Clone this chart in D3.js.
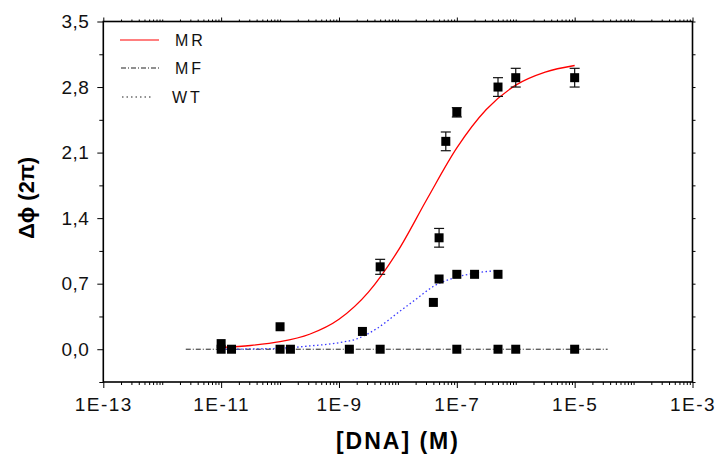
<!DOCTYPE html>
<html>
<head>
  <meta charset="utf-8">
  <script src="https://cdn.jsdelivr.net/npm/d3@7/dist/d3.min.js"></script>
  <style>
    body { margin: 0; background: #fff; }
    svg { font-family: "Liberation Sans", Arial, sans-serif; }
  </style>
</head>
<body>
  <svg id="container" width="721" height="455"></svg>
<script>
    // measured points: concentration (M), delta phi (2pi), error
    const mrConc = [5e-9, 5e-8, 6.5e-8, 1e-7, 5e-7, 1e-6, 1e-5];
    const mrValue = [0.88, 1.19, 2.22, 2.53, 2.80, 2.90, 2.90];
    const mrErr = [0.08, 0.10, 0.10, 0.05, 0.10, 0.10, 0.10];

    const wtConc = [1e-11, 1e-10, 2.5e-9, 4e-8, 5e-8, 1e-7, 2e-7, 5e-7];
    const wtValue = [0.06, 0.24, 0.19, 0.50, 0.75, 0.80, 0.80, 0.80];

    const mfConc = [1e-11, 1.5e-11, 1e-10, 1.5e-10, 1.5e-9, 5e-9, 1e-7, 5e-7, 1e-6, 1e-5];
    const mfValue = [0, 0, 0, 0, 0, 0, 0, 0, 0, 0];

    // fitted curves (log10 of concentration, value)
    const mrFitLog = [-11, -10.5, -10, -9.5, -9, -8.5, -8, -7.5, -7, -6.5, -6, -5.5, -5];
    const mrFitValue = [0.02, 0.04, 0.08, 0.16, 0.32, 0.61, 1.05, 1.61, 2.15, 2.56, 2.82, 2.96, 3.03];

    const wtFitLog = [-11, -10.5, -10, -9.5, -9, -8.7, -8.36, -8, -7.68, -7.4, -7.06, -6.72, -6.31];
    const wtFitValue = [0, 0.003, 0.01, 0.035, 0.07, 0.11, 0.22, 0.39, 0.54, 0.67, 0.76, 0.81, 0.84];

    const mfFitLog = [-11.6, -4.44];
    const mfFitValue = [0, 0];

    const xTickValues = [1e-13, 1e-11, 1e-9, 1e-7, 1e-5, 1e-3];
    const yTickValues = [0, 0.7, 1.4, 2.1, 2.8, 3.5];
    const legendNames = ['MR', 'MF', 'WT'];

    const plotLeft = 103.3, plotRight = 692.5, plotTop = 21.5, plotBottom = 382;

    const svg = d3.select('#container');

    const x = d3.scaleLog().domain([1e-13, 1e-3]).range([plotLeft, plotRight]);
    const y = d3.scaleLinear().domain([-0.35, 3.5]).range([plotBottom, plotTop]);

    const fmtY = (d) => d3.format('.1f')(d).replace('.', ',');
    const fmtX = (d) => '1E' + Math.round(Math.log10(d));

    // minor ticks
    const minorX = x.ticks(100).filter((d) => !xTickValues.some((t) => Math.abs(t - d) / t < 1e-6));
    const minorY = d3.range(-0.35, 3.5, 0.7);

    // frame
    svg.append('rect')
      .attr('x', plotLeft).attr('y', plotTop)
      .attr('width', plotRight - plotLeft).attr('height', plotBottom - plotTop)
      .attr('fill', 'none').attr('stroke', '#000').attr('stroke-width', 1.6);

    // bottom axis
    const xAxis = svg.append('g')
      .attr('transform', `translate(0, ${plotBottom})`)
      .call(d3.axisBottom(x).tickValues(xTickValues).tickFormat(fmtX).tickSize(6).tickPadding(10));
    xAxis.select('.domain').remove();
    xAxis.selectAll('text')
      .attr('font-size', 19).attr('fill', '#111')
      .attr('letter-spacing', 1.5)
      .attr('font-family', '"Liberation Sans", Arial, sans-serif');
    svg.append('g')
      .attr('transform', `translate(0, ${plotBottom})`)
      .call(d3.axisBottom(x).tickValues(minorX).tickFormat('').tickSize(3))
      .select('.domain').remove();

    // top mirrored ticks
    svg.append('g')
      .attr('transform', `translate(0, ${plotTop})`)
      .call(d3.axisTop(x).tickValues(xTickValues).tickFormat('').tickSize(4))
      .select('.domain').remove();
    svg.append('g')
      .attr('transform', `translate(0, ${plotTop})`)
      .call(d3.axisTop(x).tickValues(minorX).tickFormat('').tickSize(2))
      .select('.domain').remove();

    // left axis
    const yAxis = svg.append('g')
      .attr('transform', `translate(${plotLeft}, 0)`)
      .call(d3.axisLeft(y).tickValues(yTickValues).tickFormat(fmtY).tickSize(6).tickPadding(8));
    yAxis.select('.domain').remove();
    yAxis.selectAll('text')
      .attr('font-size', 19).attr('fill', '#111')
      .attr('letter-spacing', 0.5)
      .attr('font-family', '"Liberation Sans", Arial, sans-serif');
    svg.append('g')
      .attr('transform', `translate(${plotLeft}, 0)`)
      .call(d3.axisLeft(y).tickValues(minorY).tickFormat('').tickSize(4))
      .select('.domain').remove();

    // right mirrored ticks
    svg.append('g')
      .attr('transform', `translate(${plotRight}, 0)`)
      .call(d3.axisRight(y).tickValues(yTickValues.concat(minorY)).tickFormat('').tickSize(3))
      .select('.domain').remove();

    // axis titles
    svg.append('text')
      .attr('x', (plotLeft + plotRight) / 2).attr('y', 449)
      .attr('text-anchor', 'middle')
      .attr('font-size', 23).attr('font-weight', 'bold')
      .attr('letter-spacing', 2)
      .text('[DNA] (M)');

    svg.append('text')
      .attr('transform', 'translate(34, 198) rotate(-90)')
      .attr('text-anchor', 'middle')
      .attr('font-size', 22).attr('font-weight', 'bold')
      .text('Δϕ (2π)');

    // fitted curves
    const fitLine = d3.line()
      .x((d) => x(Math.pow(10, d[0])))
      .y((d) => y(d[1]))
      .curve(d3.curveMonotoneX);

    svg.append('path')
      .datum(mfFitLog.map((d, i) => [d, mfFitValue[i]]))
      .attr('d', fitLine)
      .attr('fill', 'none').attr('stroke', '#222').attr('stroke-width', 1)
      .attr('stroke-dasharray', '5,2,1,2');

    svg.append('path')
      .datum(wtFitLog.map((d, i) => [d, wtFitValue[i]]))
      .attr('d', fitLine)
      .attr('fill', 'none').attr('stroke', '#3a3aff').attr('stroke-width', 1.3)
      .attr('stroke-dasharray', '1.5,2.5');

    svg.append('path')
      .datum(mrFitLog.map((d, i) => [d, mrFitValue[i]]))
      .attr('d', fitLine)
      .attr('fill', 'none').attr('stroke', '#ff0000').attr('stroke-width', 1.3);

    // error bars
    const mrPoints = mrConc.map((c, i) => ({c: c, v: mrValue[i], e: mrErr[i]}));
    const bars = svg.append('g').attr('stroke', '#111').attr('stroke-width', 1.2);
    bars.selectAll('.eb')
      .data(mrPoints)
      .enter()
      .append('line')
      .attr('x1', (d) => x(d.c)).attr('x2', (d) => x(d.c))
      .attr('y1', (d) => y(d.v - d.e)).attr('y2', (d) => y(d.v + d.e));
    bars.selectAll('.capTop')
      .data(mrPoints)
      .enter()
      .append('line')
      .attr('x1', (d) => x(d.c) - 5).attr('x2', (d) => x(d.c) + 5)
      .attr('y1', (d) => y(d.v + d.e)).attr('y2', (d) => y(d.v + d.e));
    bars.selectAll('.capBot')
      .data(mrPoints)
      .enter()
      .append('line')
      .attr('x1', (d) => x(d.c) - 5).attr('x2', (d) => x(d.c) + 5)
      .attr('y1', (d) => y(d.v - d.e)).attr('y2', (d) => y(d.v - d.e));

    // markers
    const allPoints = []
      .concat(mrConc.map((c, i) => ({c: c, v: mrValue[i]})))
      .concat(wtConc.map((c, i) => ({c: c, v: wtValue[i]})))
      .concat(mfConc.map((c, i) => ({c: c, v: mfValue[i]})));
    const ms = 9;
    svg.selectAll('.pt')
      .data(allPoints)
      .enter()
      .append('rect')
      .attr('x', (d) => x(d.c) - ms / 2)
      .attr('y', (d) => y(d.v) - ms / 2)
      .attr('width', ms).attr('height', ms)
      .attr('fill', '#000');

    // legend
    const legendStyles = [
      {stroke: '#ff0000', dash: null, x1: 120, x2: 159, ly: 40, tx: 175},
      {stroke: '#222', dash: '5,2,1,2', x1: 121, x2: 161, ly: 68, tx: 175},
      {stroke: '#222', dash: '1.5,3', x1: 122, x2: 152, ly: 97, tx: 172}
    ];
    const legend = svg.append('g');
    legendNames.forEach((name, i) => {
      const s = legendStyles[i];
      legend.append('line')
        .attr('x1', s.x1).attr('x2', s.x2).attr('y1', s.ly).attr('y2', s.ly)
        .attr('stroke', s.stroke).attr('stroke-width', 1.2)
        .attr('stroke-dasharray', s.dash);
      legend.append('text')
        .attr('x', s.tx).attr('y', s.ly + 6)
        .attr('font-size', 16).attr('letter-spacing', 3).attr('fill', '#111')
        .text(name);
    });
</script>
</body>
</html>
